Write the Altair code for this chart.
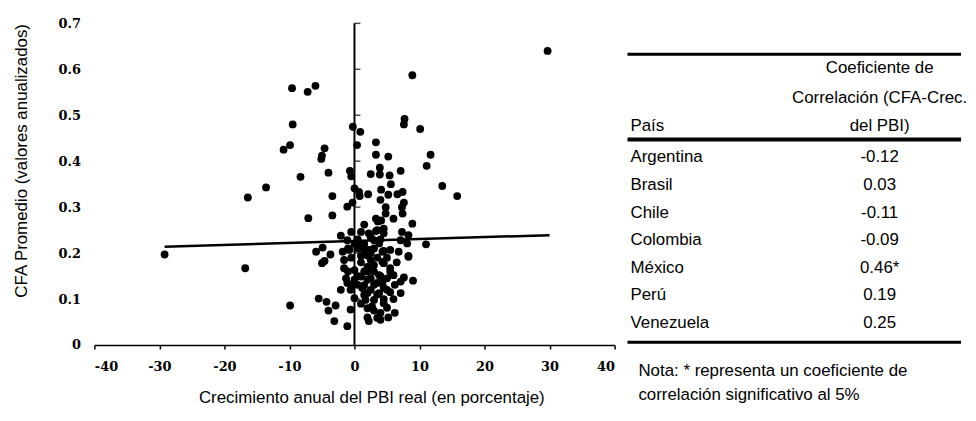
import altair as alt
import pandas as pd

# ---------------- scatter data ----------------
x_growth = [
    29.7, 8.9, -9.6, -7.2, -6.0, -9.5, -0.25, 0.9, 7.7, 7.6, 10.1, -9.9, -10.9, -4.6, -5.0, -5.1,
    0.4, 3.3, 3.3, 5.2, 11.7, 11.1, -8.3, -13.6, -16.4, -4.0, -0.7, -0.5, 2.5, 3.9, 3.9, 5.4,
    7.1, 5.6, 13.5, 15.8, -3.4, 0.0, 0.7, 0.8, 2.1, 4.1, 4.0, 5.2, 6.6, 7.4, 4.8, 7.6, 7.3, 7.4,
    -1.1, -0.3, -7.1, -3.4, 3.3, 4.1, 4.8, 6.0, 8.9, 1.5, -29.2, -16.8, -9.9, -5.9,
    4.5, -2.1, -0.5, 1.0, 2.2, 3.3, 4.5, 7.3, 8.3, -1.1, 0.5, 3.0, 3.8, 7.1, 8.1, 11.0,
    -4.9, -3.7, -5.0, -4.6, -1.8, -1.6, -0.8, 1.0, 2.2, 2.5, 4.3, 5.5, 6.8, 8.3,
    -1.6, 0.0, -1.3, 0.0, 2.0, 3.0, 3.8, 5.5, 4.5, 6.0, 7.6, 9.0, 2.0, 3.0, 4.3,
    -2.1, -0.6, 1.2, 2.0, 3.8, 5.0, 6.2, 7.1, -5.5, -4.3, -2.9, -4.0, 0.0, -0.6, 1.7,
    3.0, 4.5, 5.0, 6.2, 2.0, 3.5, 2.2, -3.1, -1.1, 1.5, 2.7, 0.5, 1.0, 4.3, 5.0, 7.1,
    -1.1, 8.3, 3.6,
    0.5, 1.5, 2.5, 3.5, 1.0, 2.0, 3.0, 4.0, 1.5, 2.5, 3.5, 4.5, 0.5, 1.5, 2.5, 3.5,
    4.5, 5.5, 2.0, 3.0, 4.0, 1.0, 5.0, 4.0, 2.5, 1.0, -0.5, -1.0, -0.5, 6.5, 5.5, 6.0,
    3.0, 2.0, 4.5, 3.5, 1.5, 0.0, -1.0, 4.0, 5.2,
]
y_cfa = [
    0.640, 0.587, 0.559, 0.551, 0.564, 0.480, 0.475, 0.464, 0.492, 0.480, 0.470, 0.435, 0.425, 0.428, 0.412, 0.405,
    0.435, 0.441, 0.414, 0.410, 0.414, 0.390, 0.366, 0.343, 0.321, 0.375, 0.379, 0.367, 0.372, 0.386, 0.371, 0.369,
    0.379, 0.350, 0.346, 0.324, 0.324, 0.341, 0.333, 0.324, 0.328, 0.338, 0.316, 0.327, 0.328, 0.333, 0.300, 0.310, 0.300, 0.286,
    0.301, 0.310, 0.276, 0.282, 0.275, 0.271, 0.286, 0.275, 0.264, 0.262, 0.197, 0.167, 0.086, 0.203,
    0.253, 0.238, 0.246, 0.246, 0.243, 0.248, 0.243, 0.246, 0.239, 0.228, 0.230, 0.228, 0.221, 0.228, 0.221, 0.219,
    0.212, 0.197, 0.178, 0.183, 0.203, 0.185, 0.207, 0.194, 0.207, 0.185, 0.203, 0.207, 0.203, 0.194,
    0.167, 0.163, 0.145, 0.142, 0.160, 0.174, 0.152, 0.167, 0.178, 0.152, 0.147, 0.140, 0.142, 0.131, 0.135,
    0.120, 0.120, 0.124, 0.113, 0.113, 0.120, 0.131, 0.113, 0.101, 0.094, 0.086, 0.075, 0.102, 0.077, 0.098,
    0.098, 0.091, 0.081, 0.070, 0.060, 0.059, 0.052, 0.052, 0.041, 0.109, 0.084, 0.131, 0.149, 0.181, 0.145, 0.138,
    0.135, 0.192, 0.269,
    0.210, 0.220, 0.200, 0.190, 0.180, 0.170, 0.160, 0.150, 0.130, 0.120, 0.110, 0.100, 0.150, 0.160, 0.145, 0.135,
    0.125, 0.115, 0.080, 0.075, 0.070, 0.090, 0.190, 0.230, 0.235, 0.220, 0.190, 0.160, 0.130, 0.180, 0.160, 0.100,
    0.210, 0.195, 0.205, 0.250, 0.205, 0.220, 0.210, 0.055, 0.060,
]
reg_x = [-29.2, 30.0]
reg_y = [0.214, 0.239]
x_ticks = [-40, -30, -20, -10, 0, 10, 20, 30, 40]
y_ticks = [0, 0.1, 0.2, 0.3, 0.4, 0.5, 0.6, 0.7]

# ---------------- table data ----------------
paises = ["Argentina", "Brasil", "Chile", "Colombia", "México", "Perú", "Venezuela"]
coeficientes = ["-0.12", "0.03", "-0.11", "-0.09", "0.46*", "0.19", "0.25"]
header_lines = ["Coeficiente de", "Correlación (CFA-Crec.", "del PBI)"]
nota_lines = ["Nota: * representa un coeficiente de", "correlación significativo al 5%"]

# table layout (row units)
data_rows = list(range(len(paises)))
header_rows = [-3.24, -2.16, -1.12]
pais_row = [-1.12]
rule_rows = [-3.74, -0.65, 6.7]
rule_widths = [3, 4, 3]
nota_rows = [7.73, 8.6]

SANS = "Liberation Sans"
SERIF = "DejaVu Serif"

pts = pd.DataFrame({"x": x_growth, "y": y_cfa})
reg = pd.DataFrame({"x": reg_x, "y": reg_y})

xs = alt.Scale(domain=[x_ticks[0], x_ticks[-1]], nice=False)
ys = alt.Scale(domain=[y_ticks[0], y_ticks[-1]], nice=False)

x_axis = alt.Axis(
    values=x_ticks, labelExpr="'' + datum.value", grid=False,
    domainColor="black", domainWidth=1.5, tickColor="black", tickWidth=1.5, tickSize=4,
    labelPadding=12, labelFont=SERIF, labelFontWeight="bold", labelFontSize=13, labelColor="black",
    title="Crecimiento anual del PBI real (en porcentaje)", titleFont=SANS, titleFontSize=17,
    titleFontWeight="normal", titleColor="black", titleX=279, titleY=53,
    titleAlign="center", titleBaseline="middle",
)
y_axis = alt.Axis(
    values=y_ticks, labelExpr="datum.value == 0 ? '0' : format(datum.value, '.1f')", grid=False,
    domain=False, ticks=False, tickSize=0, labelPadding=14,
    labelFont=SERIF, labelFontWeight="bold", labelFontSize=13, labelColor="black",
    title="CFA Promedio (valores anualizados)", titleFont=SANS, titleFontSize=17,
    titleFontWeight="normal", titleColor="black", titleAngle=-90, titleX=-73, titleY=138,
    titleAlign="center", titleBaseline="middle",
)

X = alt.X("x:Q", scale=xs, axis=x_axis)
Y = alt.Y("y:Q", scale=ys, axis=y_axis)

points = alt.Chart(pts).mark_circle(size=62, color="black", opacity=1).encode(x=X, y=Y)

vline = alt.Chart(pd.DataFrame({"x": [0], "y": [y_ticks[0]], "y2": [y_ticks[-1]]})).mark_rule(
    color="black", strokeWidth=2
).encode(x=X, y=Y, y2="y2:Q")

vticks = alt.Chart(pd.DataFrame({"x": [0] * (len(y_ticks) - 1), "y": y_ticks[1:]})).mark_tick(
    orient="horizontal", size=6, thickness=1.5, color="black", xOffset=3
).encode(x=X, y=Y)

regline = alt.Chart(reg).mark_line(color="black", strokeWidth=2.5).encode(x=X, y=Y)

scatter = alt.layer(regline, vline, vticks, points).properties(width=524, height=324)

# ---------------- table ----------------
ts = alt.Scale(domain=[-4.856, 6.799], reverse=True, nice=False, zero=False)

rows_df = pd.DataFrame({"pais": paises, "coef": coeficientes, "row": data_rows})
head_df = pd.DataFrame({"txt": header_lines, "row": header_rows})
pais_df = pd.DataFrame({"txt": ["País"], "row": pais_row})
rule_df = pd.DataFrame({"row": rule_rows, "w": rule_widths})
nota_df = pd.DataFrame({"txt": nota_lines, "row": nota_rows})

TFS = 17
TY = alt.Y("row:Q", scale=ts, axis=None)

names = alt.Chart(rows_df).mark_text(align="left", baseline="middle", font=SANS, fontSize=TFS, color="black").encode(
    x=alt.value(3), y=TY, text="pais:N")
vals = alt.Chart(rows_df).mark_text(align="center", baseline="middle", font=SANS, fontSize=TFS, color="black").encode(
    x=alt.value(254), y=TY, text="coef:N")
head = alt.Chart(head_df).mark_text(align="center", baseline="middle", font=SANS, fontSize=TFS, color="black").encode(
    x=alt.value(254), y=TY, text="txt:N")
pais_h = alt.Chart(pais_df).mark_text(align="left", baseline="middle", font=SANS, fontSize=TFS, color="black").encode(
    x=alt.value(3), y=TY, text="txt:N")
rules = alt.Chart(rule_df).mark_rule(color="black").encode(
    y=TY, x=alt.value(0), x2=alt.value(336),
    strokeWidth=alt.StrokeWidth("w:Q", scale=None, legend=None))
nota = alt.Chart(nota_df).mark_text(align="left", baseline="middle", font=SANS, fontSize=TFS, color="black").encode(
    x=alt.value(11), y=TY, text="txt:N")

table = alt.layer(rules, names, vals, head, pais_h, nota).properties(width=336, height=324)

chart = alt.hconcat(scatter, table, spacing=13, bounds="flush").properties(
    padding={"left": 5, "top": 8, "right": 0, "bottom": 0}
).configure_view(stroke=None)

chart.save("out.html", embed_options={"renderer": "svg", "actions": False})
